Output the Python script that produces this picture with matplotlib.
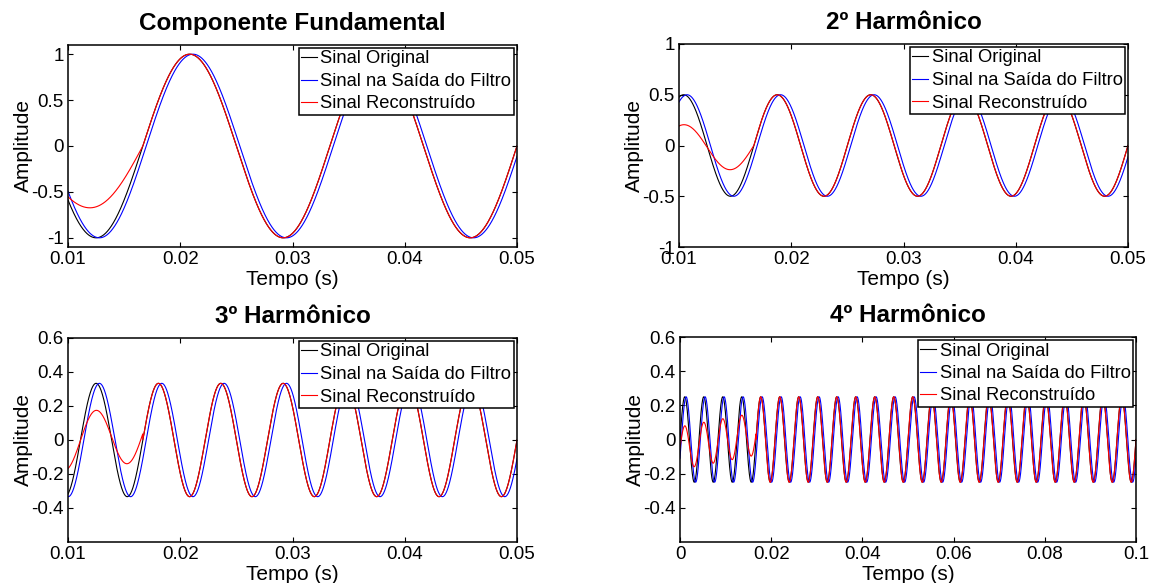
import numpy as np
import matplotlib
matplotlib.use("Agg")
import matplotlib.pyplot as plt
from matplotlib.ticker import FixedLocator, FixedFormatter

plt.rcParams['font.family'] = ['Liberation Sans', 'DejaVu Sans']

# sinal: soma de harmonicos de 60 Hz
f0 = 60.0
orders = [1, 2, 3, 4]
amps = [1.0, 0.5, 1/3, 0.25]
titles = ['Componente Fundamental', '2º Harmônico', '3º Harmônico', '4º Harmônico']
legend_labels = ['Sinal Original', 'Sinal na Saída do Filtro', 'Sinal Reconstruído']

filter_delay = 0.0003   # atraso do filtro (s)
t_settle = 1 / 60       # janela de um ciclo

# transitorio do sinal reconstruido no primeiro ciclo
trans_gain = [0.5, 0.46, 0.5, 0.5]
trans_off_start = [-0.65, -0.067, -0.08, -0.05]
trans_off_end = [0.0, 0.0, 0.037, 0.033]

xlims = [(0.01, 0.05), (0.01, 0.05), (0.01, 0.05), (0.0, 0.1)]
ylims = [(-1.1, 1.1), (-1, 1), (-0.6, 0.6), (-0.6, 0.6)]
xticks = [[0.01, 0.02, 0.03, 0.04, 0.05]] * 3 + [[0, 0.02, 0.04, 0.06, 0.08, 0.1]]
yticks = [[-1, -0.5, 0, 0.5, 1], [-1, -0.5, 0, 0.5, 1],
          [-0.4, -0.2, 0, 0.2, 0.4, 0.6], [-0.4, -0.2, 0, 0.2, 0.4, 0.6]]

# posicoes dos eixos em pixels (esq, dir, topo, base)
W, H = 1150, 583
boxes = [(68, 517, 45, 247), (679, 1128, 44, 247),
         (68, 517, 338, 542), (680, 1136, 337, 542)]

fig = plt.figure(figsize=(W / 100, H / 100), dpi=100)

def fmt(v):
    return '%g' % v

for i in range(4):
    l, r, top, bot = boxes[i]
    ax = fig.add_axes([l / W, 1 - bot / H, (r - l) / W, (bot - top) / H])

    t = np.arange(0, 0.1 + 1e-6, 1e-5)
    w = 2 * np.pi * f0 * orders[i]
    original = amps[i] * np.sin(w * t)
    filtered = amps[i] * np.sin(w * (t - filter_delay))
    off = trans_off_start[i] + (trans_off_end[i] - trans_off_start[i]) * t / t_settle
    recon = np.where(t < t_settle, trans_gain[i] * original + off, original)

    m = (t >= xlims[i][0] - 1e-9) & (t <= xlims[i][1] + 1e-9)
    ax.plot(t[m], original[m], color='black', lw=0.8, label=legend_labels[0])
    ax.plot(t[m], filtered[m], color='blue', lw=0.8, label=legend_labels[1])
    ax.plot(t[m], recon[m], color='red', lw=0.8, label=legend_labels[2])

    ax.set_xlim(xlims[i])
    ax.set_ylim(ylims[i])
    ax.xaxis.set_major_locator(FixedLocator(xticks[i]))
    ax.xaxis.set_major_formatter(FixedFormatter([fmt(v) for v in xticks[i]]))
    ax.yaxis.set_major_locator(FixedLocator(yticks[i]))
    ax.yaxis.set_major_formatter(FixedFormatter([fmt(v) for v in yticks[i]]))
    ax.tick_params(direction='in', length=3.5, width=0.8, top=True, right=True,
                   labelsize=13.5, pad=3)
    for s in ax.spines.values():
        s.set_linewidth(1.1)

    ax.set_title(titles[i], fontsize=17.5, fontweight='bold', pad=11)
    ax.set_xlabel('Tempo (s)', fontsize=15, labelpad=1)
    ax.set_ylabel('Amplitude', fontsize=15, labelpad=-1.5)

    leg = ax.legend(loc='upper right', bbox_to_anchor=(1, 1), fontsize=13.2,
                    borderaxespad=0.15, handlelength=0.85, handletextpad=0.2,
                    labelspacing=0.3, borderpad=0.15, fancybox=False,
                    framealpha=1, edgecolor='black')
    leg.get_frame().set_linewidth(1.1)

fig.savefig('out.png', dpi=100)
